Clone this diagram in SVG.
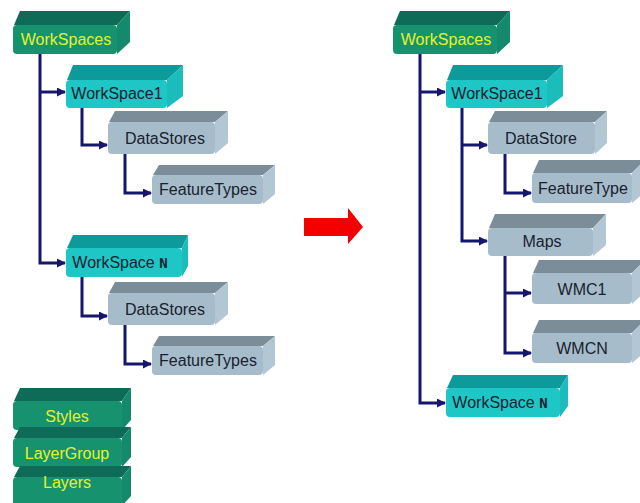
<svg xmlns="http://www.w3.org/2000/svg" width="640" height="503" viewBox="0 0 640 503">
<defs>
<style>
text{font-family:"Liberation Sans",Arial,sans-serif;font-size:16px;text-anchor:middle}
.gf{fill:#17926f}.gt{fill:#0d6b58}.gs{fill:#14896b}
.cf{fill:#1fc6c6}.ct{fill:#0e9a9a}.cs{fill:#1bbcbc}
.sf{fill:#a7bccb}.st{fill:#7b8d99}.ss{fill:#b2c6d4}
.yt{fill:#e4f22a}.dt{fill:#18222e}
.conn{fill:none;stroke:#16166e;stroke-width:3;stroke-linejoin:miter}
</style>
<marker id="ah" markerWidth="9" markerHeight="9" refX="8" refY="4.5" orient="auto" markerUnits="userSpaceOnUse">
<path d="M0,0 L9,4.5 L0,9 Z" fill="#16166e"/>
</marker>
</defs>
<rect width="640" height="503" fill="#ffffff"/>

<g id="connectors">
<path class="conn" d="M40,54 V263 H65" marker-end="url(#ah)"/>
<path class="conn" d="M40,92 H65" marker-end="url(#ah)"/>
<path class="conn" d="M82,108 V145 H107" marker-end="url(#ah)"/>
<path class="conn" d="M125,154 V193 H151" marker-end="url(#ah)"/>
<path class="conn" d="M82,277 V316 H107" marker-end="url(#ah)"/>
<path class="conn" d="M125,325 V364 H151" marker-end="url(#ah)"/>
<path class="conn" d="M420,54 V403 H445" marker-end="url(#ah)"/>
<path class="conn" d="M420,92 H445" marker-end="url(#ah)"/>
<path class="conn" d="M462,108 V241 H487" marker-end="url(#ah)"/>
<path class="conn" d="M462,145 H487" marker-end="url(#ah)"/>
<path class="conn" d="M505,154 V193 H531" marker-end="url(#ah)"/>
<path class="conn" d="M505,256 V353 H531" marker-end="url(#ah)"/>
<path class="conn" d="M505,293 H531" marker-end="url(#ah)"/>
</g>

<g id="arrow-red">
<polygon points="304,218 348,218 348,208 363,227 348,244 348,236 304,236" fill="#f40000"/>
</g>

<!-- Left column -->
<g id="L-WorkSpaces">
<polygon class="gt" points="14,25 20,11 130,11 117,25"/>
<polygon class="gs" points="117,25 130,11 130,42 117,54"/>
<rect class="gf" x="13" y="25" width="104" height="29" rx="4"/>
<text class="yt" x="66" y="45">WorkSpaces</text>
</g>
<g id="L-WorkSpace1">
<polygon class="ct" points="67,80 73,65 183,65 167,80"/>
<polygon class="cs" points="167,80 183,65 183,96 167,108"/>
<rect class="cf" x="66" y="80" width="101" height="28" rx="4"/>
<text class="dt" x="117" y="99">WorkSpace1</text>
</g>
<g id="L-DataStores1">
<polygon class="st" points="109,122 115,111 228,111 215,122"/>
<polygon class="ss" points="215,122 228,111 228,143 215,154"/>
<rect class="sf" x="108" y="122" width="107" height="32" rx="4"/>
<text class="dt" x="165" y="144">DataStores</text>
</g>
<g id="L-FeatureTypes1">
<polygon class="st" points="153,175 159,165 275,165 263,175"/>
<polygon class="ss" points="263,175 275,165 275,194 263,204"/>
<rect class="sf" x="152" y="175" width="111" height="29" rx="4"/>
<text class="dt" x="208" y="195">FeatureTypes</text>
</g>
<g id="L-WorkSpaceN">
<polygon class="ct" points="67,248 73,235 188,235 182,248"/>
<polygon class="cs" points="182,248 188,235 188,266 182,277"/>
<rect class="cf" x="66" y="248" width="116" height="29" rx="4"/>
<text class="dt" x="120" y="268">WorkSpace <tspan style="font-family:'DejaVu Sans Mono',monospace;font-weight:bold;font-size:14px">N</tspan></text>
</g>
<g id="L-DataStores2">
<polygon class="st" points="109,293 115,282 228,282 215,293"/>
<polygon class="ss" points="215,293 228,282 228,314 215,325"/>
<rect class="sf" x="108" y="293" width="107" height="32" rx="4"/>
<text class="dt" x="165" y="315">DataStores</text>
</g>
<g id="L-FeatureTypes2">
<polygon class="st" points="153,346 159,336 275,336 263,346"/>
<polygon class="ss" points="263,346 275,336 275,365 263,375"/>
<rect class="sf" x="152" y="346" width="111" height="29" rx="4"/>
<text class="dt" x="208" y="366">FeatureTypes</text>
</g>
<g id="L-Styles">
<polygon class="gt" points="14,401 20,388 131,388 122,401"/>
<polygon class="gs" points="122,401 131,388 131,420 122,430"/>
<rect class="gf" x="13" y="401" width="109" height="29" rx="4"/>
<text class="yt" x="67" y="422">Styles</text>
</g>
<g id="L-LayerGroup">
<polygon class="gt" points="14,438 20,427 131,427 122,438"/>
<polygon class="gs" points="122,438 131,427 131,457 122,467"/>
<rect class="gf" x="13" y="438" width="109" height="29" rx="4"/>
<text class="yt" x="67" y="459">LayerGroup</text>
</g>
<g id="L-Layers">
<polygon class="gt" points="14,477 20,466 131,466 122,477"/>
<polygon class="gs" points="122,477 131,466 131,496 122,506"/>
<rect class="gf" x="13" y="477" width="109" height="29" rx="4"/>
<text class="yt" x="67" y="488">Layers</text>
</g>

<!-- Right column -->
<g id="R-WorkSpaces">
<polygon class="gt" points="394,25 400,11 510,11 497,25"/>
<polygon class="gs" points="497,25 510,11 510,42 497,54"/>
<rect class="gf" x="393" y="25" width="104" height="29" rx="4"/>
<text class="yt" x="446" y="45">WorkSpaces</text>
</g>
<g id="R-WorkSpace1">
<polygon class="ct" points="447,80 453,65 563,65 547,80"/>
<polygon class="cs" points="547,80 563,65 563,96 547,108"/>
<rect class="cf" x="446" y="80" width="101" height="28" rx="4"/>
<text class="dt" x="497" y="99">WorkSpace1</text>
</g>
<g id="R-DataStore">
<polygon class="st" points="489,122 495,111 607,111 595,122"/>
<polygon class="ss" points="595,122 607,111 607,143 595,154"/>
<rect class="sf" x="488" y="122" width="107" height="32" rx="4"/>
<text class="dt" x="541" y="144">DataStore</text>
</g>
<g id="R-FeatureType">
<polygon class="st" points="533,173 539,160 645,160 632,173"/>
<polygon class="ss" points="632,173 645,160 645,192 632,203"/>
<rect class="sf" x="532" y="173" width="100" height="30" rx="4"/>
<text class="dt" x="583" y="194">FeatureType</text>
</g>
<g id="R-Maps">
<polygon class="st" points="489,228 495,214 606,214 593,228"/>
<polygon class="ss" points="593,228 606,214 606,245 593,256"/>
<rect class="sf" x="488" y="228" width="105" height="28" rx="4"/>
<text class="dt" x="542" y="247">Maps</text>
</g>
<g id="R-WMC1">
<polygon class="st" points="533,273 539,260 645,260 632,273"/>
<polygon class="ss" points="632,273 645,260 645,292 632,304"/>
<rect class="sf" x="532" y="273" width="100" height="31" rx="4"/>
<text class="dt" x="582" y="295">WMC1</text>
</g>
<g id="R-WMCN">
<polygon class="st" points="533,333 539,320 645,320 632,333"/>
<polygon class="ss" points="632,333 645,320 645,352 632,363"/>
<rect class="sf" x="532" y="333" width="100" height="30" rx="4"/>
<text class="dt" x="582" y="354">WMCN</text>
</g>
<g id="R-WorkSpaceN">
<polygon class="ct" points="447,388 453,375 568,375 560,388"/>
<polygon class="cs" points="560,388 568,375 568,406 560,417"/>
<rect class="cf" x="446" y="388" width="114" height="29" rx="4"/>
<text class="dt" x="500" y="408">WorkSpace <tspan style="font-family:'DejaVu Sans Mono',monospace;font-weight:bold;font-size:14px">N</tspan></text>
</g>
</svg>
